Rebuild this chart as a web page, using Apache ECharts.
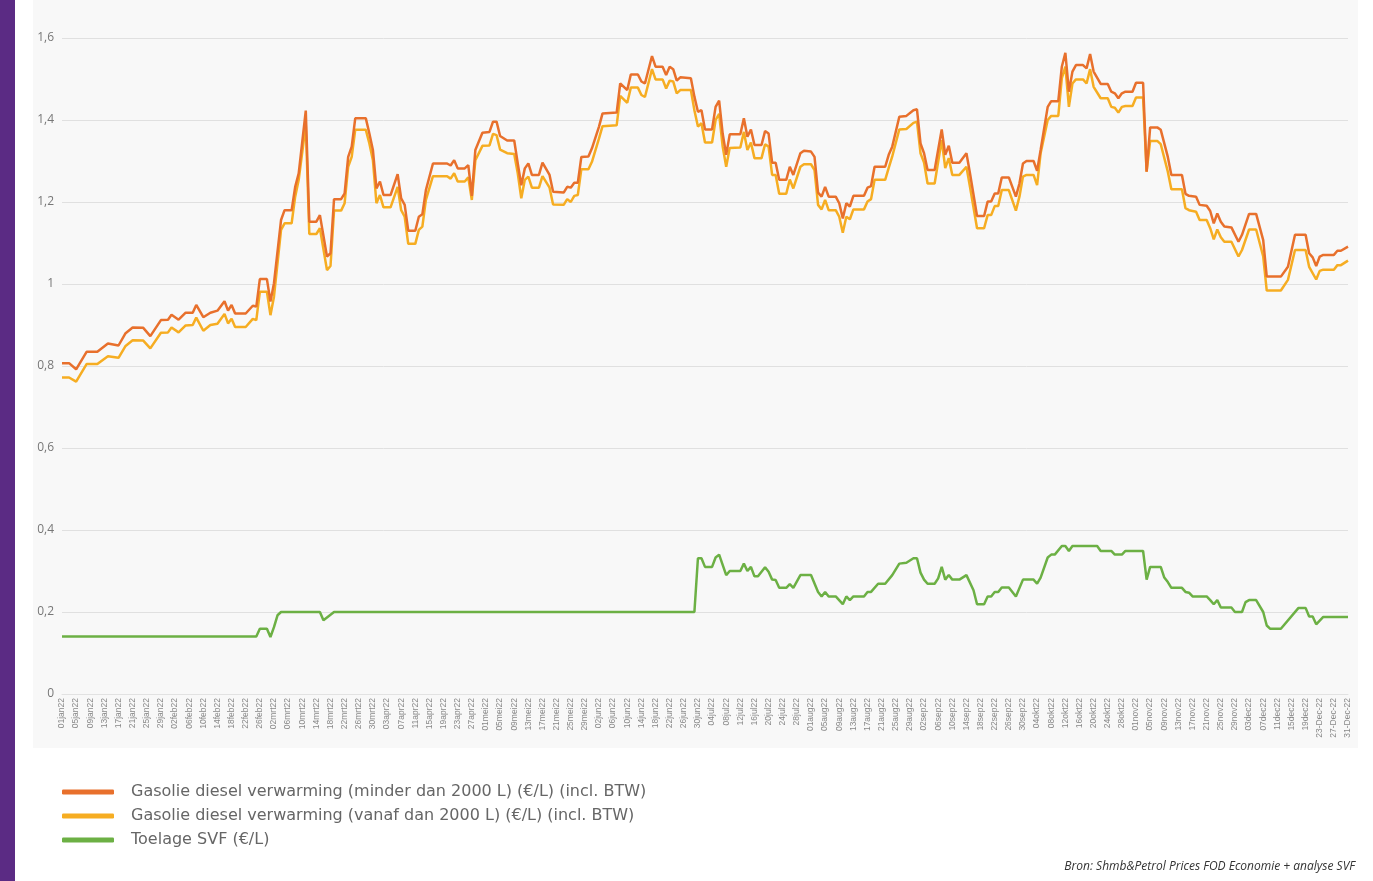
<!DOCTYPE html>
<html>
<head>
<meta charset="UTF-8">
<title>Gasolie verwarming 2022</title>
<style>
  html, body { margin: 0; padding: 0; background: #fff; }
  #chart { width: 1373px; height: 881px; }
</style>
</head>
<body>
<div id="chart"></div>
<script src="https://cdn.jsdelivr.net/npm/echarts@6/dist/echarts.min.js"></script>
<script>
// tick labels: one category per day of 2022
var monthNames = ['jan', 'feb', 'mrt', 'apr', 'mei', 'jun', 'jul', 'aug', 'sep', 'okt', 'nov', 'dec'];
var monthDays = [31, 28, 31, 30, 31, 30, 31, 31, 30, 31, 30, 31];

var seriesNames = [
  'Gasolie diesel verwarming (minder dan 2000 L) (€/L) (incl. BTW)',
  'Gasolie diesel verwarming (vanaf dan 2000 L) (€/L) (incl. BTW)',
  'Toelage SVF (€/L)'
];

// [dag van het jaar (0 = 1 jan), prijs]
var minder = [
  [0,0.807],[2,0.807],[4,0.792],[7,0.835],[10,0.835],[13,0.855],[16,0.85],[18,0.88],[20,0.894],[23,0.893],
  [25,0.873],[28,0.912],[30,0.913],[31,0.925],[33,0.913],[35,0.93],[37,0.93],[38,0.949],[40,0.919],[42,0.93],
  [44,0.935],[46,0.958],[47,0.935],[48,0.949],[49,0.928],[52,0.928],[54,0.947],[55,0.945],[56,1.012],[58,1.012],
  [59,0.957],[60,1.002],[62,1.156],[63,1.18],[65,1.18],[66,1.237],[67,1.27],[69,1.423],[70,1.152],[72,1.152],
  [73,1.168],[75,1.067],[76,1.075],[77,1.207],[79,1.207],[80,1.221],[81,1.31],[82,1.335],[83,1.404],[86,1.404],
  [87,1.367],[88,1.327],[89,1.233],[90,1.25],[91,1.217],[93,1.217],[95,1.268],[96,1.209],[97,1.193],[98,1.13],
  [100,1.13],[101,1.164],[102,1.17],[103,1.229],[105,1.294],[109,1.294],[110,1.289],[111,1.302],[112,1.282],[114,1.282],
  [115,1.29],[116,1.215],[117,1.327],[119,1.369],[121,1.371],[122,1.396],[123,1.396],[124,1.361],[126,1.35],[128,1.35],
  [129,1.294],[130,1.241],[131,1.282],[132,1.294],[133,1.266],[135,1.266],[136,1.296],[138,1.266],[139,1.225],[142,1.223],
  [143,1.237],[144,1.235],[145,1.247],[146,1.247],[147,1.31],[149,1.311],[150,1.331],[152,1.384],[153,1.416],[157,1.418],
  [158,1.489],[160,1.473],[161,1.511],[163,1.511],[164,1.494],[165,1.489],[167,1.556],[168,1.53],[170,1.53],[171,1.51],
  [172,1.53],[173,1.524],[174,1.496],[175,1.504],[178,1.502],[179,1.457],[180,1.42],[181,1.424],[182,1.377],[184,1.377],
  [185,1.432],[186,1.447],[187,1.367],[188,1.315],[189,1.365],[192,1.365],[193,1.404],[194,1.359],[195,1.377],[196,1.339],
  [198,1.339],[199,1.373],[200,1.367],[201,1.296],[202,1.296],[203,1.254],[205,1.254],[206,1.286],[207,1.266],[209,1.319],
  [210,1.325],[212,1.323],[213,1.31],[214,1.223],[215,1.213],[216,1.237],[217,1.213],[219,1.213],[220,1.197],[221,1.16],
  [222,1.197],[223,1.189],[224,1.215],[227,1.215],[228,1.235],[229,1.239],[230,1.286],[233,1.286],[234,1.315],[235,1.335],
  [237,1.408],[239,1.41],[241,1.424],[242,1.426],[243,1.343],[244,1.319],[245,1.278],[247,1.278],[249,1.377],[250,1.315],
  [251,1.337],[252,1.296],[254,1.296],[256,1.319],[257,1.27],[259,1.166],[261,1.166],[262,1.201],[263,1.201],[264,1.221],
  [265,1.221],[266,1.26],[268,1.26],[270,1.213],[271,1.245],[272,1.294],[273,1.3],[275,1.3],[276,1.276],[277,1.327],
  [279,1.432],[280,1.446],[282,1.446],[283,1.53],[284,1.564],[285,1.469],[286,1.518],[287,1.534],[289,1.534],[290,1.526],
  [291,1.561],[292,1.518],[294,1.488],[296,1.488],[297,1.469],[298,1.465],[299,1.453],[300,1.465],[301,1.469],[303,1.469],
  [304,1.491],[306,1.491],[307,1.274],[308,1.382],[310,1.382],[311,1.376],[313,1.31],[314,1.266],[317,1.266],[318,1.22],
  [319,1.215],[321,1.213],[322,1.193],[324,1.191],[325,1.178],[326,1.148],[327,1.172],[328,1.152],[329,1.14],[331,1.138],
  [333,1.103],[334,1.12],[336,1.171],[338,1.171],[340,1.107],[341,1.018],[345,1.018],[347,1.042],[349,1.12],[352,1.12],
  [353,1.075],[354,1.065],[355,1.044],[356,1.067],[357,1.071],[360,1.071],[361,1.081],[362,1.081],[364,1.091]
];

var vanaf = [
  [0,0.772],[2,0.772],[4,0.762],[7,0.805],[10,0.805],[13,0.824],[16,0.82],[18,0.849],[20,0.863],[23,0.862],
  [25,0.843],[28,0.881],[30,0.882],[31,0.894],[33,0.882],[35,0.899],[37,0.9],[38,0.918],[40,0.886],[42,0.9],
  [44,0.903],[46,0.927],[47,0.904],[48,0.915],[49,0.895],[52,0.895],[54,0.915],[55,0.912],[56,0.981],[58,0.981],
  [59,0.924],[60,0.969],[62,1.132],[63,1.148],[65,1.148],[66,1.213],[67,1.254],[69,1.388],[70,1.122],[72,1.122],
  [73,1.136],[75,1.034],[76,1.044],[77,1.179],[79,1.179],[80,1.197],[81,1.286],[82,1.31],[83,1.376],[86,1.376],
  [87,1.343],[88,1.302],[89,1.197],[90,1.217],[91,1.187],[93,1.187],[95,1.237],[96,1.18],[97,1.164],[98,1.098],
  [100,1.098],[101,1.132],[102,1.14],[103,1.205],[105,1.263],[109,1.263],[110,1.257],[111,1.27],[112,1.25],[114,1.25],
  [115,1.26],[116,1.205],[117,1.302],[119,1.337],[121,1.338],[122,1.366],[123,1.363],[124,1.328],[126,1.319],[128,1.317],
  [129,1.27],[130,1.209],[131,1.254],[132,1.262],[133,1.235],[135,1.235],[136,1.263],[138,1.235],[139,1.194],[142,1.193],
  [143,1.207],[144,1.2],[145,1.215],[146,1.217],[147,1.28],[149,1.28],[150,1.298],[152,1.355],[153,1.385],[157,1.387],
  [158,1.459],[160,1.442],[161,1.479],[163,1.479],[164,1.461],[165,1.456],[167,1.524],[168,1.499],[170,1.499],[171,1.477],
  [172,1.496],[173,1.494],[174,1.465],[175,1.473],[178,1.473],[179,1.424],[180,1.384],[181,1.392],[182,1.345],[184,1.345],
  [185,1.4],[186,1.415],[187,1.335],[188,1.286],[189,1.332],[192,1.333],[193,1.371],[194,1.327],[195,1.345],[196,1.307],
  [198,1.307],[199,1.341],[200,1.335],[201,1.266],[202,1.266],[203,1.22],[205,1.22],[206,1.255],[207,1.233],[209,1.286],
  [210,1.292],[212,1.292],[213,1.278],[214,1.193],[215,1.182],[216,1.205],[217,1.18],[219,1.18],[220,1.164],[221,1.125],
  [222,1.164],[223,1.158],[224,1.182],[227,1.182],[228,1.201],[229,1.207],[230,1.254],[233,1.254],[234,1.283],[235,1.311],
  [237,1.377],[239,1.378],[241,1.393],[242,1.396],[243,1.319],[244,1.296],[245,1.245],[247,1.245],[249,1.351],[250,1.283],
  [251,1.307],[252,1.266],[254,1.266],[256,1.286],[257,1.237],[259,1.136],[261,1.136],[262,1.168],[263,1.168],[264,1.19],
  [265,1.19],[266,1.229],[268,1.229],[270,1.179],[271,1.213],[272,1.262],[273,1.266],[275,1.266],[276,1.241],[277,1.319],
  [279,1.4],[280,1.41],[282,1.41],[283,1.502],[284,1.53],[285,1.432],[286,1.489],[287,1.499],[289,1.499],[290,1.489],
  [291,1.524],[292,1.481],[294,1.453],[296,1.453],[297,1.432],[298,1.43],[299,1.418],[300,1.432],[301,1.434],[303,1.434],
  [304,1.455],[306,1.455],[307,1.274],[308,1.349],[310,1.349],[311,1.341],[313,1.274],[314,1.231],[317,1.231],[318,1.185],
  [319,1.18],[321,1.176],[322,1.156],[324,1.156],[325,1.136],[326,1.109],[327,1.133],[328,1.114],[329,1.103],[331,1.103],
  [333,1.067],[334,1.083],[336,1.133],[338,1.133],[340,1.067],[341,0.984],[345,0.984],[347,1.01],[349,1.083],[352,1.083],
  [353,1.042],[355,1.011],[356,1.032],[357,1.035],[360,1.035],[361,1.046],[362,1.046],[364,1.057]
];

var toelage = [
  [0,0.14],[55,0.14],[56,0.159],[58,0.159],[59,0.139],[60,0.163],[61,0.192],[62,0.2],[73,0.2],[74,0.18],
  [77,0.2],[179,0.2],[180,0.331],[181,0.331],[182,0.31],[184,0.31],[185,0.333],[186,0.34],[188,0.29],[189,0.3],
  [192,0.3],[193,0.318],[194,0.3],[195,0.31],[196,0.287],[197,0.287],[199,0.309],[200,0.298],[201,0.279],[202,0.278],
  [203,0.259],[205,0.259],[206,0.268],[207,0.259],[209,0.29],[212,0.29],[214,0.249],[215,0.238],[216,0.249],[217,0.238],
  [219,0.238],[221,0.219],[222,0.238],[223,0.229],[224,0.238],[227,0.238],[228,0.249],[229,0.249],[231,0.269],[233,0.269],
  [235,0.29],[237,0.318],[239,0.32],[241,0.331],[242,0.331],[243,0.296],[244,0.279],[245,0.269],[247,0.269],[248,0.282],
  [249,0.31],[250,0.279],[251,0.29],[252,0.279],[254,0.279],[256,0.29],[258,0.253],[259,0.219],[261,0.219],[262,0.238],
  [263,0.238],[264,0.249],[265,0.249],[266,0.26],[268,0.26],[270,0.238],[272,0.279],[275,0.279],[276,0.269],[277,0.284],
  [279,0.333],[280,0.34],[281,0.34],[283,0.361],[284,0.361],[285,0.349],[286,0.361],[293,0.361],[294,0.349],[297,0.349],
  [298,0.34],[300,0.34],[301,0.349],[306,0.349],[307,0.279],[308,0.31],[311,0.31],[312,0.284],[313,0.273],[314,0.259],
  [317,0.259],[318,0.249],[319,0.247],[320,0.238],[324,0.238],[325,0.229],[326,0.219],[327,0.229],[328,0.211],[331,0.211],
  [332,0.2],[334,0.2],[335,0.224],[336,0.229],[338,0.229],[340,0.2],[341,0.167],[342,0.159],[345,0.159],[350,0.21],
  [352,0.21],[353,0.189],[354,0.189],[355,0.17],[357,0.188],[364,0.188]
];

var colors = ['#e8702c', '#f6ad22', '#6cb044'];

// build the day labels (01jan22 ... 31-Dec-22)
var days = [];
for (var m = 0; m < 12; m++) {
  for (var d = 1; d <= monthDays[m]; d++) {
    var dd = (d < 10 ? '0' : '') + d;
    if (m == 11 && d >= 23) {
      days.push(dd + '-Dec-22');
    } else {
      days.push(dd + monthNames[m] + '22');
    }
  }
}

var myChart = echarts.init(document.getElementById('chart'));

var option = {
  backgroundColor: '#ffffff',
  animation: false,
  color: colors,
  graphic: [
    { type: 'rect', z: -100, shape: { x: 33, y: 0, width: 1325, height: 748 }, style: { fill: '#f8f8f8' } },
    { type: 'rect', z: 100, shape: { x: 0, y: 0, width: 15, height: 881 }, style: { fill: '#5b2b84' } },
    {
      type: 'text', right: 18, top: 861,
      style: {
        text: 'Bron: Shmb&Petrol Prices FOD Economie + analyse SVF',
        font: 'italic 12px "Open Sans", sans-serif',
        fill: '#333'
      }
    }
  ],
  grid: { left: 62, right: 25, top: 38, bottom: 187 },
  legend: {
    orient: 'vertical',
    left: 62,
    top: 782,
    padding: 0,
    itemWidth: 52,
    itemHeight: 5,
    itemGap: 4,
    icon: 'roundRect',
    textStyle: { fontFamily: 'DejaVu Sans', fontSize: 16, color: '#666', lineHeight: 20, padding: [0, 0, 0, 12] },
    data: seriesNames
  },
  xAxis: {
    type: 'category',
    data: days,
    boundaryGap: false,
    axisTick: { show: false },
    axisLine: { lineStyle: { color: '#e2e2e2' } },
    axisLabel: {
      interval: 3,
      rotate: 90,
      fontSize: 8.5,
      fontFamily: 'Liberation Sans',
      color: '#888',
      margin: 4
    },
    splitLine: { show: false }
  },
  yAxis: {
    type: 'value',
    min: 0,
    max: 1.6,
    interval: 0.2,
    axisLine: { show: false },
    axisTick: { show: false },
    splitLine: { lineStyle: { color: '#e0e0e0' } },
    axisLabel: {
      fontFamily: 'Open Sans',
      fontSize: 12,
      color: '#777',
      margin: 8,
      padding: [0, 0, 9, 0],
      formatter: function (v) {
        return String(Math.round(v * 10) / 10).replace('.', ',');
      }
    }
  },
  series: [
    { name: seriesNames[0], type: 'line', data: minder, showSymbol: false, lineStyle: { width: 2.5 }, z: 4 },
    { name: seriesNames[1], type: 'line', data: vanaf, showSymbol: false, lineStyle: { width: 2.5 }, z: 3 },
    { name: seriesNames[2], type: 'line', data: toelage, showSymbol: false, lineStyle: { width: 2.5 }, z: 3 }
  ]
};

myChart.setOption(option);
</script>
</body>
</html>
